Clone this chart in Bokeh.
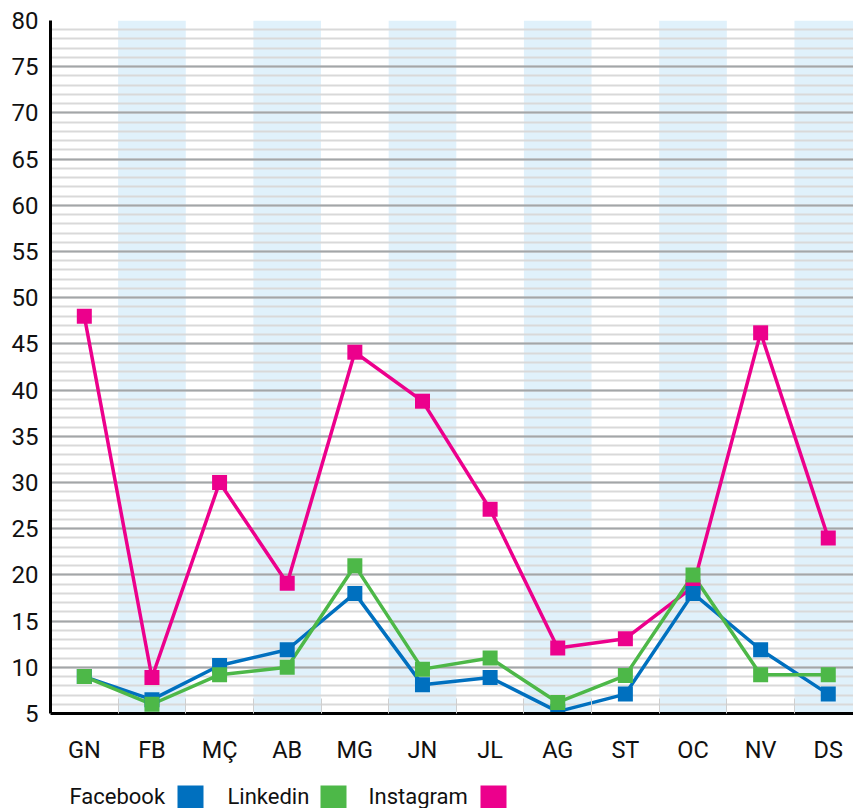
from bokeh.plotting import figure
from bokeh.models import FixedTicker, Range1d
from bokeh.layouts import column
from bokeh.core.properties import value
from bokeh.embed import file_html
from bokeh.resources import INLINE

months = ["GN", "FB", "MÇ", "AB", "MG", "JN", "JL", "AG", "ST", "OC", "NV", "DS"]
facebook = [9, 6.5, 10.2, 11.9, 18, 8.1, 8.9, 5.2, 7.1, 18, 11.9, 7.1]
linkedin = [9, 6, 9.2, 10, 21, 9.8, 11, 6.2, 9.1, 20, 9.2, 9.2]
instagram = [48, 8.9, 30, 19.1, 44.1, 38.8, 27.1, 12.1, 13.1, 18.7, 46.2, 24]
series_names = ["Facebook", "Linkedin", "Instagram"]
colors = ["#0070bf", "#4db848", "#ec008c"]
y_ticks = list(range(5, 81, 5))

FONT = "Roboto"
x = list(range(len(months)))

p = figure(width=853, height=768, output_backend="svg", toolbar_location=None,
           x_range=Range1d(-0.5, 11.373), y_range=Range1d(5, 80),
           min_border_left=50, min_border_top=20, min_border_right=0,
           min_border_bottom=55)
p.outline_line_color = None
p.background_fill_color = "white"

# alternating column stripes
stripe_x = [i for i in x if i % 2 == 1]
p.vbar(x=stripe_x, width=1, bottom=5, top=80, fill_color="#e0f1fb",
       line_color=None, level="image")

# grid
p.xgrid.grid_line_color = None
p.ygrid.ticker = FixedTicker(ticks=y_ticks, minor_ticks=list(range(5, 81)))
p.ygrid.grid_line_color = "#a3a6a8"
p.ygrid.grid_line_width = 2
p.ygrid.minor_grid_line_color = "#d9d9d9"
p.ygrid.minor_grid_line_width = 2

# axes
p.yaxis.ticker = FixedTicker(ticks=y_ticks)
p.yaxis.axis_line_color = "black"
p.yaxis.axis_line_width = 3
p.yaxis.major_tick_line_color = None
p.yaxis.minor_tick_line_color = None
p.yaxis.major_label_text_font = FONT
p.yaxis.major_label_text_font_size = "24px"
p.yaxis.major_label_text_color = "#111111"
p.yaxis.major_label_standoff = 6

p.xaxis.ticker = FixedTicker(ticks=x, minor_ticks=[i + 0.5 for i in range(-1, 12)])
p.xaxis.major_label_overrides = {i: m for i, m in enumerate(months)}
p.xaxis.axis_line_color = "black"
p.xaxis.axis_line_width = 3
p.xaxis.major_tick_line_color = None
p.xaxis.minor_tick_line_color = "#cfcfcf"
p.xaxis.minor_tick_line_width = 1
p.xaxis.minor_tick_in = 15
p.xaxis.minor_tick_out = 0
p.xaxis.major_label_text_font = FONT
p.xaxis.major_label_text_font_size = "23.5px"
p.xaxis.major_label_text_color = "#111111"
p.xaxis.major_label_standoff = 16

data = {"Facebook": facebook, "Linkedin": linkedin, "Instagram": instagram}
order = [2, 0, 1]
for i in order:
    p.line(x, data[series_names[i]], line_color=colors[i], line_width=3.5)
for i in order:
    p.scatter(x, data[series_names[i]], marker="square", size=15,
              fill_color=colors[i], line_color=None)

# legend strip (label followed by swatch); frame aligned with main frame (x 50..853)
lg = figure(width=853, height=40, output_backend="svg", toolbar_location=None,
            x_range=Range1d(50, 853), y_range=Range1d(0, 40),
            min_border_left=50, min_border_right=0, min_border_top=0,
            min_border_bottom=0)
lg.outline_line_color = None
lg.axis.visible = False
lg.grid.visible = False
leg_text_x = [69, 227, 368]
leg_box_x = [190, 333, 493]
lg.text(x=leg_text_x, y=[12] * 3, text=series_names, text_font=value(FONT),
        text_font_size="22px", text_baseline="middle", text_align="left",
        text_color="#111111")
lg.rect(x=leg_box_x, y=[11.5] * 3, width=26, height=23, fill_color=colors,
        line_color=None)

layout = column(p, lg, spacing=0)
open("out.html", "w").write(file_html(layout, INLINE))
